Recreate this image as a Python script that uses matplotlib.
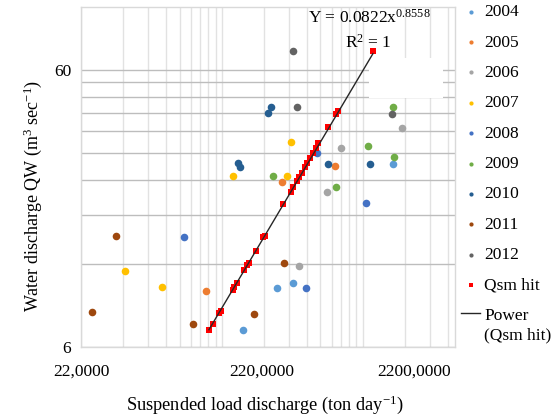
import matplotlib
matplotlib.use('Agg')
import matplotlib.pyplot as plt
import numpy as np
from matplotlib.patches import Rectangle
from matplotlib.ticker import FixedLocator, NullFormatter
from matplotlib.legend_handler import HandlerLine2D

plt.rcParams['font.family'] = ['Liberation Serif', 'DejaVu Serif']
plt.rcParams['mathtext.fontset'] = 'custom'
plt.rcParams['mathtext.rm'] = 'Liberation Serif'
plt.rcParams['mathtext.it'] = 'Liberation Serif:italic'

# ---------------- data ----------------
years = ['2004', '2005', '2006', '2007', '2008', '2009', '2010', '2011', '2012']
year_colors = ['#5B9BD5', '#ED7D31', '#A5A5A5', '#FFC000', '#4472C4',
               '#70AD47', '#255E91', '#9E480E', '#636363']

x2004 = [310000, 540000, 702000, 3591000]
y2004 = [6.91, 9.80, 10.2, 27.5]
x2005 = [169500, 586000, 1392000]
y2005 = [9.56, 23.6, 27.0]
x2006 = [773000, 1222000, 1535000, 4160000]
y2006 = [11.8, 21.8, 31.4, 37.1]
x2007 = [45100, 82600, 263000, 636000, 678000]
y2007 = [11.3, 9.89, 24.9, 24.9, 33.0]
x2008 = [118200, 867000, 2310000, 1038000]
y2008 = [14.9, 9.80, 19.9, 30.1]
x2009 = [506000, 1416000, 2386000, 3650000, 3591000]
y2009 = [24.9, 22.7, 31.9, 29.1, 44.1]
x2010 = [285500, 295000, 466600, 490000, 1242000, 2466000]
y2010 = [27.7, 26.8, 42.0, 44.1, 27.5, 27.5]
x2011 = [26300, 39000, 137000, 371000, 605000]
y2011 = [8.03, 15.1, 7.27, 7.89, 12.1]
x2012 = [702000, 748000, 3535000]
y2012 = [70.3, 44.1, 41.6]

qsm_x = [177900, 189800, 209500, 216400, 263000, 267400, 281000, 315000,
         331000, 342000, 383000, 430000, 444000, 596000, 678000, 702000,
         748000, 773000, 812000, 853000, 881000, 925000, 972000, 1021000,
         1055000, 1242000, 1416000, 1463000, 2589000]
qsm_y = [6.91, 7.27, 7.96, 8.09, 9.64, 9.89, 10.2, 11.4, 11.9, 12.1, 13.3,
         14.9, 15.1, 19.7, 21.8, 22.7, 23.9, 24.6, 25.5, 26.8, 27.7, 28.9,
         30.1, 31.4, 32.7, 37.3, 41.6, 42.7, 70.3]

fit_a = 0.0822
fit_b = 0.8558
fit_x_unit = 1000.0

x_tick_labels = ['22,0000', '220,0000', '2200,0000']
x_tick_values = [22000, 423000, 5060000]
y_tick_values = [6, 60]
y_tick_labels = ['6', '60']

series_x = [x2004, x2005, x2006, x2007, x2008, x2009, x2010, x2011, x2012]
series_y = [y2004, y2005, y2006, y2007, y2008, y2009, y2010, y2011, y2012]

# ---------------- figure ----------------
FS = 12.5
fig = plt.figure(figsize=(5.6, 4.17), dpi=100)
ax = fig.add_axes([81/560, 1-347/417, 374/560, 340/417])
ax.set_xscale('log')
ax.set_yscale('log')
ax.set_xlim(22000, 9.9e6)
ax.set_ylim(6, 101)

# gridlines (Excel-like: base*k)
xgrid = [22000 * k * 10**n for n in range(0, 3) for k in range(1, 10)]
ygrid = [6 * k for k in range(1, 11)]
for gx in xgrid:
    ax.axvline(gx, color='#e2e2e2', lw=1.0, zorder=0.5)
for gy in ygrid:
    ax.axhline(gy, color='#bdbdbd', lw=1.0, zorder=0.6)

# erased box (white patch as in reference)
ax.add_patch(Rectangle((0.770, 0.732), 0.198, 0.118, transform=ax.transAxes,
                       facecolor='white', edgecolor='none', zorder=1))

handles = []
for yr, col, xs, ys in zip(years, year_colors, series_x, series_y):
    h = ax.scatter(xs, ys, s=30, color=col, linewidths=0, zorder=3, label=yr)
    handles.append(h)

hq = ax.scatter(qsm_x, qsm_y, s=22, marker='s', color='#FF0000', linewidths=0,
                zorder=4, label='Qsm hit')
handles.append(hq)

line_x = np.geomspace(min(qsm_x), max(qsm_x), 60)
line_y = fit_a * (line_x / fit_x_unit) ** fit_b
hl, = ax.plot(line_x, line_y, color='#262626', lw=1.0, zorder=5,
              label='Power\n(Qsm hit)')
handles.append(hl)

# ticks
ax.xaxis.set_major_locator(FixedLocator(x_tick_values))
ax.set_xticklabels(x_tick_labels, fontsize=FS)
ax.xaxis.set_minor_formatter(NullFormatter())
ax.xaxis.set_minor_locator(FixedLocator([]))
ax.yaxis.set_major_locator(FixedLocator(y_tick_values))
ax.set_yticklabels(y_tick_labels, fontsize=FS)
ax.yaxis.set_minor_formatter(NullFormatter())
ax.yaxis.set_minor_locator(FixedLocator([]))
ax.tick_params(axis='x', length=0, pad=12)
ax.tick_params(axis='y', length=0, pad=7)

for sp in ax.spines.values():
    sp.set_color('#d9d9d9')
    sp.set_linewidth(1.0)

ax.set_xlabel('Suspended load discharge (ton day$^{-1}$)', fontsize=13.2, va='center')
ax.xaxis.set_label_coords(0.492, -0.17)
ax.set_ylabel('Water discharge QW (m$^{3}$ sec$^{-1}$)', fontsize=13, va='center')
ax.yaxis.set_label_coords(-0.13, 0.445)

fig.text(369/560, 1-18/417, 'Y = 0.0822x$^{0.8558}$', fontsize=FS,
         ha='center', va='center')
fig.text(368/560, 1-43/417, 'R$^{2}$ = 1', fontsize=FS, ha='center', va='center')


class HandlerLineUp(HandlerLine2D):
    def create_artists(self, legend, orig_handle, xdescent, ydescent, width,
                       height, fontsize, trans):
        arts = super().create_artists(legend, orig_handle, xdescent, ydescent,
                                      width, height, fontsize, trans)
        for a in arts:
            if hasattr(a, 'get_ydata'):
                a.set_ydata(np.asarray(a.get_ydata(), dtype=float) + 0.7 * fontsize)
        return arts


leg = fig.legend(handles=handles, loc='upper left',
                 bbox_to_anchor=(461/560, 1-4/417), bbox_transform=fig.transFigure,
                 frameon=False, fontsize=FS, markerscale=0.55, borderpad=0,
                 handlelength=1.1, handletextpad=0.25, labelspacing=0.82,
                 borderaxespad=0, handler_map={hl: HandlerLineUp()})
for t in leg.get_texts():
    t.set_linespacing(1.3)

fig.savefig('out.png', dpi=100)
